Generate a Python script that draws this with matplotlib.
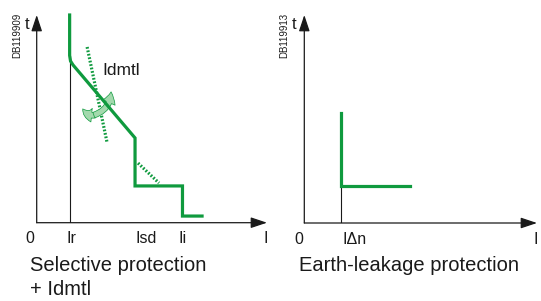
import matplotlib
matplotlib.use("Agg")
import matplotlib.pyplot as plt
from matplotlib.patches import FancyArrowPatch

plt.rcParams['font.family'] = ['Liberation Sans', 'DejaVu Sans']

green = "#0f9a3e"
light_green = "#a3d9ad"

# left chart: selective protection curve (current, time), axes run 0..100
sel_current = [14.3, 14.3, 14.7, 15.8, 42.7, 42.7, 63.3, 63.3, 71.8]
sel_time = [100, 80.5, 77.8, 75.9, 40.8, 17.7, 17.7, 3.2, 3.2]
idmtl_a_current = [21.9, 30.5]
idmtl_a_time = [84.6, 38.9]
idmtl_b_current = [44.0, 53.1]
idmtl_b_time = [28.7, 19.1]
ir = 14.3
sel_ticks = [-2.9, 15.3, 47.5, 63.3, 99.5]
sel_labels = ["0", "Ir", "Isd", "Ii", "I"]

# right chart: earth-leakage curve
el_current = [15.8, 15.8, 45.4]
el_time = [52.9, 17.8, 17.8]
idn = 15.8
el_ticks = [-2.3, 21.4, 99.5]
el_labels = ["0", "I\u0394n", "I"]

fig = plt.figure(figsize=(5.41, 3.01), dpi=100)
ax1 = fig.add_axes([36.7 / 541, (301 - 222.7) / 301, 230.3 / 541, 207.7 / 301])
ax2 = fig.add_axes([304.3 / 541, (301 - 223) / 301, 232.7 / 541, 208 / 301])


def draw_frame(ax, code):
    ax.set_xlim(0, 100)
    ax.set_ylim(0, 100)
    ax.axis("off")
    arrow = dict(arrowstyle="-|>,head_length=0.9,head_width=0.3", color="#1a1a1a",
                 lw=0.9, mutation_scale=11, shrinkA=0, shrinkB=0)
    ax.annotate("", xy=(100, 0), xytext=(0, 0), arrowprops=arrow, annotation_clip=False)
    ax.annotate("", xy=(0, 100), xytext=(0, 0), arrowprops=arrow, annotation_clip=False)
    ax.text(-3.2, 95.5, "t", fontsize=12, ha="right", va="center", color="#1a1a1a")
    ax.text(-8.5, 90, code, fontsize=7, rotation=90, ha="center", va="center", color="#1a1a1a")


draw_frame(ax1, "DB119909")
draw_frame(ax2, "DB119913")

# left chart
ax1.plot([ir, ir], [0, 80.5], color="#1a1a1a", lw=0.8)
ax1.plot(sel_current, sel_time, color=green, lw=2.3, solid_joinstyle="miter", clip_on=False, zorder=3)
ax1.plot(idmtl_a_current, idmtl_a_time, color=green, lw=2.3, ls=(0, (0.55, 0.55)), clip_on=False)
ax1.plot(idmtl_b_current, idmtl_b_time, color=green, lw=2.3, ls=(0, (0.55, 0.55)), clip_on=False)
ax1.text(28.7, 73.5, "Idmtl", fontsize=12.5, ha="left", va="center", color="#1a1a1a")

# curved double arrow showing the adjustable slope
curl = "simple,head_length=0.6,head_width=0.75,tail_width=0.32"
ax1.add_patch(FancyArrowPatch((25.3, 51.8), (20.0, 54.8), connectionstyle="arc3,rad=-0.35",
                              arrowstyle=curl, mutation_scale=13, facecolor=light_green,
                              edgecolor=green, lw=0.5, shrinkA=0, shrinkB=0, clip_on=False, zorder=2))
ax1.add_patch(FancyArrowPatch((24.8, 51.8), (32.3, 63.0), connectionstyle="arc3,rad=0.35",
                              arrowstyle=curl, mutation_scale=13, facecolor=light_green,
                              edgecolor=green, lw=0.5, shrinkA=0, shrinkB=0, clip_on=False, zorder=2))
for x, lab in zip(sel_ticks, sel_labels):
    ax1.text(x, -7.8, lab, fontsize=11.5, ha="center", va="center", color="#1a1a1a")
ax1.text(-2.9, -20.4, "Selective protection", fontsize=14.5, ha="left", va="center", color="#1a1a1a")
ax1.text(-2.9, -32.4, "+ Idmtl", fontsize=14.5, ha="left", va="center", color="#1a1a1a")

# right chart
ax2.plot([idn, idn], [0, 17.8], color="#1a1a1a", lw=0.8)
ax2.plot(el_current, el_time, color=green, lw=2.3, solid_joinstyle="miter")
for x, lab in zip(el_ticks, el_labels):
    ax2.text(x, -7.8, lab, fontsize=11.5, ha="center", va="center", color="#1a1a1a")
ax2.text(-2.3, -20.4, "Earth-leakage protection", fontsize=14.5, ha="left", va="center", color="#1a1a1a")

fig.savefig("out.png", dpi=100)
